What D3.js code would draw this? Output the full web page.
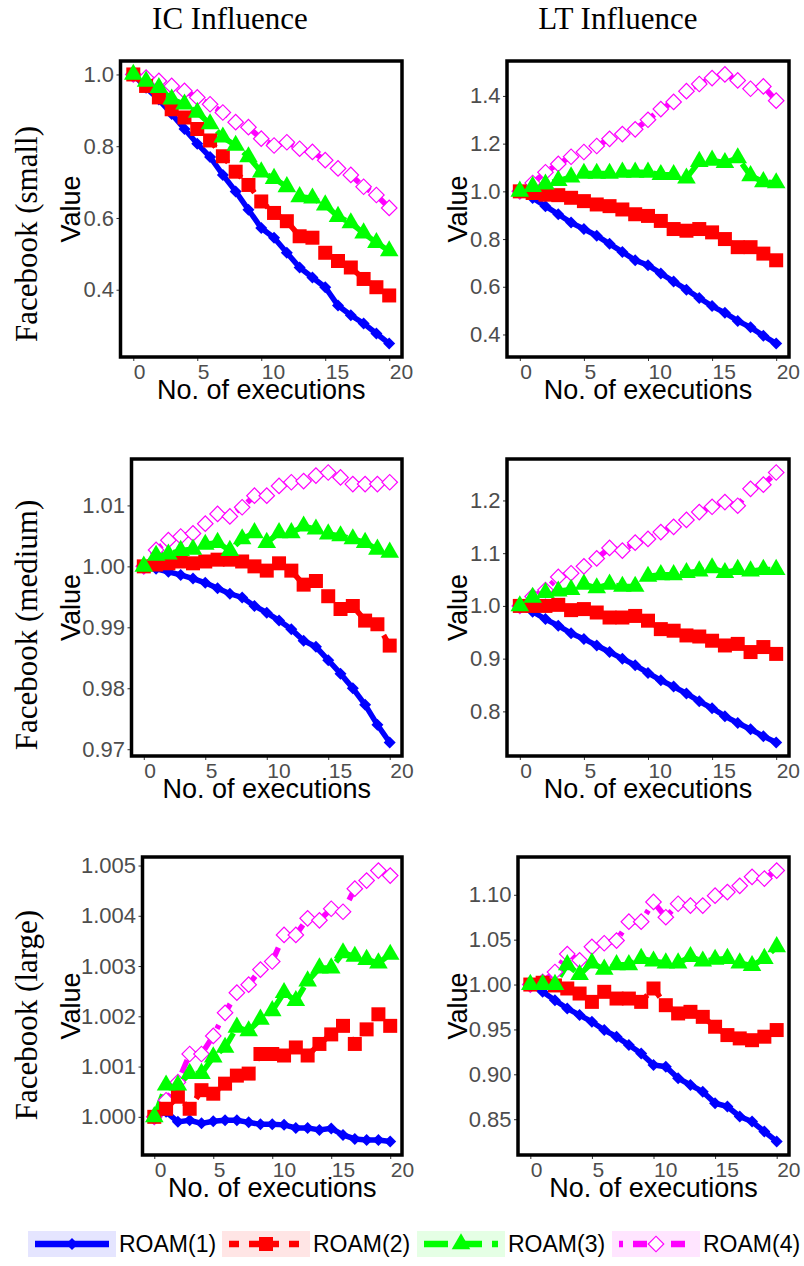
<!DOCTYPE html>
<html>
<head>
<meta charset="utf-8">
<script src="https://cdn.jsdelivr.net/npm/d3@7"></script>
<style>
  body { margin: 0; background: #fff; }
  svg { display: block; }
</style>
</head>
<body>
<svg id="chart" width="804" height="1266"></svg>
<script>
// x positions shared by every panel
const executions = [0, 1, 2, 3, 4, 5, 6, 7, 8, 9, 10, 11, 12, 13, 14, 15, 16, 17, 18, 19, 20];
const xTicks = [0, 5, 10, 15, 20];

const seriesNames = ["ROAM(1)", "ROAM(2)", "ROAM(3)", "ROAM(4)"];
const seriesColors = ["#0000ff", "#ff0000", "#00ff00", "#ff00ff"];

const colTitles = ["IC Influence", "LT Influence"];
const rowTitles = ["Facebook (small)", "Facebook (medium)", "Facebook (large)"];

// Facebook (small), IC
const icSmall1 = [1.0, 0.963, 0.93, 0.89, 0.848, 0.807, 0.77, 0.72, 0.674, 0.623, 0.572, 0.545, 0.503, 0.462, 0.434, 0.407, 0.356, 0.329, 0.306, 0.278, 0.25];
const icSmall2 = [1.0, 0.968, 0.936, 0.903, 0.88, 0.848, 0.816, 0.772, 0.729, 0.692, 0.646, 0.614, 0.591, 0.549, 0.545, 0.503, 0.48, 0.462, 0.43, 0.407, 0.384];
const icSmall3 = [1.0, 0.981, 0.963, 0.931, 0.917, 0.894, 0.862, 0.825, 0.802, 0.77, 0.728, 0.71, 0.687, 0.659, 0.655, 0.636, 0.604, 0.586, 0.558, 0.531, 0.508];
const icSmall4 = [1.0, 0.991, 0.982, 0.968, 0.954, 0.936, 0.917, 0.894, 0.867, 0.853, 0.821, 0.802, 0.811, 0.793, 0.784, 0.761, 0.738, 0.72, 0.687, 0.664, 0.628];
const icSmallTicks = [0.4, 0.6, 0.8, 1.0];

// Facebook (small), LT
const ltSmall1 = [1.0, 0.972, 0.938, 0.904, 0.869, 0.842, 0.814, 0.78, 0.746, 0.711, 0.69, 0.656, 0.622, 0.588, 0.553, 0.519, 0.491, 0.457, 0.43, 0.395, 0.362];
const ltSmall2 = [1.0, 0.993, 0.986, 0.984, 0.973, 0.959, 0.945, 0.938, 0.924, 0.904, 0.897, 0.876, 0.842, 0.835, 0.842, 0.828, 0.8, 0.766, 0.766, 0.739, 0.711];
const ltSmall3 = [1.0, 1.02, 1.03, 1.045, 1.06, 1.075, 1.075, 1.075, 1.08, 1.08, 1.08, 1.07, 1.07, 1.055, 1.125, 1.13, 1.12, 1.14, 1.065, 1.04, 1.035];
const ltSmall4 = [1.0, 1.035, 1.08, 1.115, 1.145, 1.165, 1.19, 1.22, 1.24, 1.26, 1.3, 1.345, 1.375, 1.42, 1.45, 1.475, 1.49, 1.465, 1.43, 1.44, 1.38];
const ltSmallTicks = [0.4, 0.6, 0.8, 1.0, 1.2, 1.4];

// Facebook (medium), IC
const icMedium1 = [1.0, 0.9996, 0.9991, 0.9986, 0.998, 0.9973, 0.9964, 0.9955, 0.9949, 0.9935, 0.9924, 0.9911, 0.9897, 0.9878, 0.9868, 0.9846, 0.9824, 0.98, 0.9773, 0.974, 0.9711];
const icMedium2 = [1.0, 1.0003, 1.0005, 1.0008, 1.0005, 1.0008, 1.0011, 1.0011, 1.0008, 1.0, 0.9993, 1.0005, 0.9993, 0.997, 0.9976, 0.9951, 0.993, 0.9935, 0.9911, 0.9905, 0.987];
const icMedium3 = [1.0, 1.0018, 1.002, 1.0026, 1.0028, 1.0036, 1.0039, 1.0026, 1.0045, 1.0055, 1.0039, 1.0055, 1.0055, 1.0066, 1.0061, 1.0053, 1.005, 1.0045, 1.0039, 1.0028, 1.0023];
const icMedium4 = [1.0, 1.0027, 1.0043, 1.0049, 1.0054, 1.007, 1.0086, 1.0082, 1.0097, 1.0116, 1.0116, 1.0132, 1.0138, 1.014, 1.0149, 1.0154, 1.0146, 1.0135, 1.0135, 1.0135, 1.0138];
const icMediumTicks = [0.97, 0.98, 0.99, 1.0, 1.01];

// Facebook (medium), LT
const ltMedium1 = [1.0, 0.989, 0.975, 0.9625, 0.948, 0.9375, 0.925, 0.9125, 0.9, 0.8875, 0.873, 0.859, 0.847, 0.834, 0.819, 0.806, 0.791, 0.778, 0.766, 0.753, 0.741];
const ltMedium2 = [1.0, 1.0, 1.0, 1.002, 0.992, 0.994, 0.9875, 0.978, 0.978, 0.981, 0.972, 0.956, 0.953, 0.944, 0.942, 0.934, 0.925, 0.928, 0.9125, 0.922, 0.909];
const ltMedium3 = [1.0, 1.016, 1.025, 1.028, 1.031, 1.041, 1.034, 1.041, 1.037, 1.037, 1.056, 1.059, 1.059, 1.063, 1.066, 1.072, 1.063, 1.069, 1.066, 1.069, 1.069];
const ltMedium4 = [1.0, 1.018, 1.03, 1.055, 1.062, 1.075, 1.09, 1.11, 1.105, 1.12, 1.127, 1.14, 1.15, 1.163, 1.178, 1.188, 1.197, 1.19, 1.222, 1.23, 1.253];
const ltMediumTicks = [0.8, 0.9, 1.0, 1.1, 1.2];

// Facebook (large), IC
const icLarge1 = [1.0, 1.0001, 0.9999, 0.99993, 0.99987, 0.99991, 0.99993, 0.99993, 0.99989, 0.99985, 0.99985, 0.99984, 0.99978, 0.99978, 0.99974, 0.99977, 0.99964, 0.99956, 0.99954, 0.99954, 0.99951];
const icLarge2 = [1.0, 1.00016, 1.0004, 1.00016, 1.00053, 1.00046, 1.00066, 1.00082, 1.00086, 1.00125, 1.00125, 1.00122, 1.00138, 1.00122, 1.00145, 1.00164, 1.00181, 1.00145, 1.00174, 1.00204, 1.00181];
const icLarge3 = [1.0, 1.00063, 1.00063, 1.00086, 1.00086, 1.00119, 1.00138, 1.00178, 1.00171, 1.00194, 1.00211, 1.00247, 1.00231, 1.0027, 1.00296, 1.00296, 1.00326, 1.00319, 1.00313, 1.00306, 1.00323];
const icLarge4 = [1.0, 1.00033, 1.00069, 1.00125, 1.00125, 1.00161, 1.00207, 1.00247, 1.00263, 1.00293, 1.00309, 1.00362, 1.00362, 1.00395, 1.00391, 1.00414, 1.00408, 1.00454, 1.0047, 1.0049, 1.0048];
const icLargeTicks = [1.0, 1.001, 1.002, 1.003, 1.004, 1.005];

// Facebook (large), LT
const ltLarge1 = [1.0, 0.992, 0.9826, 0.9733, 0.966, 0.9585, 0.9493, 0.9419, 0.9326, 0.9233, 0.9104, 0.9085, 0.8956, 0.8881, 0.8807, 0.8678, 0.8641, 0.853, 0.8474, 0.8363, 0.8252];
const ltLarge2 = [1.0, 1.002, 0.999, 0.9956, 0.99, 0.9807, 0.9919, 0.9844, 0.9844, 0.9807, 0.9956, 0.977, 0.9678, 0.9696, 0.964, 0.953, 0.9437, 0.94, 0.938, 0.9419, 0.9493];
const ltLarge3 = [1.0, 1.0, 1.0, 1.022, 1.011, 1.024, 1.017, 1.022, 1.022, 1.029, 1.026, 1.024, 1.024, 1.031, 1.026, 1.028, 1.029, 1.024, 1.021, 1.029, 1.042];
const ltLarge4 = [1.0, 1.003, 1.014, 1.034, 1.027, 1.042, 1.046, 1.049, 1.07, 1.07, 1.092, 1.075, 1.09, 1.088, 1.088, 1.099, 1.103, 1.11, 1.12, 1.118, 1.127];
const ltLargeTicks = [0.85, 0.9, 0.95, 1.0, 1.05, 1.1];

/* panel boxes: [left, top, right, bottom] of the black frame */
const panels = [
    { series: [icSmall1, icSmall2, icSmall3, icSmall4], ticks: icSmallTicks, fmt: ".1f", box: [120.5, 61, 402, 357], col: 0 },
    { series: [ltSmall1, ltSmall2, ltSmall3, ltSmall4], ticks: ltSmallTicks, fmt: ".1f", box: [507, 61, 789, 357], col: 1 },
    { series: [icMedium1, icMedium2, icMedium3, icMedium4], ticks: icMediumTicks, fmt: ".2f", box: [131.5, 459, 402, 756], col: 0 },
    { series: [ltMedium1, ltMedium2, ltMedium3, ltMedium4], ticks: ltMediumTicks, fmt: ".1f", box: [507, 459, 789, 756], col: 1 },
    { series: [icLarge1, icLarge2, icLarge3, icLarge4], ticks: icLargeTicks, fmt: ".3f", box: [142.5, 857, 402, 1155], col: 0 },
    { series: [ltLarge1, ltLarge2, ltLarge3, ltLarge4], ticks: ltLargeTicks, fmt: ".2f", box: [518, 857, 789, 1155], col: 1 }
];

const sansFont = "'Liberation Sans', Arial, sans-serif";
const serifFont = "'Liberation Serif', 'Times New Roman', serif";
const dashes = [null, "10,10", "24,10", "4,10,14,10"];
const lineW = 5.5;

const svg = d3.select("#chart");

function drawMarker(g, k) {
    let c = seriesColors[k];
    if (k == 0) {
        g.append("path")
            .attr("d", d3.symbol(d3.symbolSquare, 72)())
            .attr("transform", "rotate(45)")
            .attr("fill", c)
    } else if (k == 1) {
        g.append("path")
            .attr("d", d3.symbol(d3.symbolSquare, 196)())
            .attr("fill", c)
    } else if (k == 2) {
        g.append("path")
            .attr("d", d3.symbol(d3.symbolTriangle, 150)())
            .attr("fill", c)
    } else {
        g.append("path")
            .attr("d", d3.symbol(d3.symbolSquare, 120)())
            .attr("transform", "rotate(45)")
            .attr("fill", "#fff")
            .attr("stroke", c)
            .attr("stroke-width", 1.2)
    }
}

/* column titles */
svg.selectAll(".coltitle")
    .data(colTitles)
    .enter()
    .append("text")
    .attr("x", (d, i) => [230, 618][i])
    .attr("y", 29)
    .attr("text-anchor", "middle")
    .style("font-family", serifFont)
    .style("font-size", "31px")
    .text(d => d);

/* row titles */
const rowCenters = [234, 625, 1015];
rowTitles.forEach(function (t, i) {
    svg.append("text")
        .attr("transform", `translate(37, ${rowCenters[i]}) rotate(-90)`)
        .attr("text-anchor", "middle")
        .style("font-family", serifFont)
        .style("font-size", "31px")
        .text(t);
});

panels.forEach(function (p) {
    let [x0, y0, x1, y1] = p.box;
    let all = p.series.flat();
    let ext = d3.extent(all);
    let pad = (ext[1] - ext[0]) * 0.05;

    let x = d3.scaleLinear().domain([-1, 21]).range([x0, x1]);
    let y = d3.scaleLinear().domain([ext[0] - pad, ext[1] + pad]).range([y1, y0]);

    let g = svg.append("g");

    // y axis
    let ya = g.append("g")
        .attr("transform", `translate(${x0},0)`)
        .call(d3.axisLeft(y).tickValues(p.ticks).tickFormat(d3.format(p.fmt)).tickSize(4).tickPadding(2.5));
    ya.select(".domain").remove();
    ya.selectAll("line").attr("stroke", "#333");
    ya.selectAll("text")
        .attr("fill", "#4d4d4d")
        .style("font-family", sansFont)
        .style("font-size", "22px");

    // x axis, labels start at the tick
    let xa = g.append("g")
        .attr("transform", `translate(0,${y1})`)
        .call(d3.axisBottom(x).tickValues(xTicks).tickSize(4).tickPadding(3));
    xa.select(".domain").remove();
    xa.selectAll("line").attr("stroke", "#333");
    xa.selectAll("text")
        .attr("text-anchor", "start")
        .attr("fill", "#4d4d4d")
        .style("font-family", sansFont)
        .style("font-size", "21px");

    // axis titles
    g.append("text")
        .attr("x", (x0 + x1) / 2)
        .attr("y", y1 + 42)
        .attr("text-anchor", "middle")
        .style("font-family", sansFont)
        .style("font-size", "27px")
        .text("No. of executions");

    g.append("text")
        .attr("transform", `translate(${p.col == 0 ? 80 : 467}, ${(y0 + y1) / 2}) rotate(-90)`)
        .attr("text-anchor", "middle")
        .style("font-family", sansFont)
        .style("font-size", "27px")
        .text("Value");

    // lines
    let line = d3.line()
        .x((d, i) => x(executions[i]))
        .y(d => y(d));

    p.series.forEach(function (s, k) {
        g.append("path")
            .datum(s)
            .attr("d", line)
            .attr("fill", "none")
            .attr("stroke", seriesColors[k])
            .attr("stroke-width", lineW)
            .attr("stroke-dasharray", dashes[k])
    });

    // points: magenta first, then blue, red, green on top
    [3, 0, 1, 2].forEach(function (k) {
        g.selectAll(".pt" + k)
            .data(p.series[k])
            .enter()
            .append("g")
            .attr("class", "pt" + k)
            .attr("transform", (d, i) => `translate(${x(executions[i])},${y(d)})`)
            .each(function () { drawMarker(d3.select(this), k); });
    });

    // frame
    g.append("rect")
        .attr("x", x0)
        .attr("y", y0)
        .attr("width", x1 - x0)
        .attr("height", y1 - y0)
        .attr("fill", "none")
        .attr("stroke", "#000")
        .attr("stroke-width", 3.5);
});

/* legend */
const keyX = [28, 222, 417, 612];
const keyW = 88, keyH = 26, keyY = 1231;

seriesNames.forEach(function (name, k) {
    let lg = svg.append("g").attr("transform", `translate(${keyX[k]},${keyY})`);
    lg.append("rect")
        .attr("width", keyW)
        .attr("height", keyH)
        .attr("fill", seriesColors[k])
        .attr("fill-opacity", 0.1);
    lg.append("line")
        .attr("x1", 7).attr("x2", keyW - 7)
        .attr("y1", keyH / 2).attr("y2", keyH / 2)
        .attr("stroke", seriesColors[k])
        .attr("stroke-width", lineW + 1)
        .attr("stroke-dasharray", dashes[k]);
    let m = lg.append("g").attr("transform", `translate(${keyW / 2},${keyH / 2})`);
    drawMarker(m, k);
    lg.append("text")
        .attr("x", keyW + 3)
        .attr("y", keyH / 2 + 8)
        .style("font-family", sansFont)
        .style("font-size", "23px")
        .text(name);
});
</script>
</body>
</html>
